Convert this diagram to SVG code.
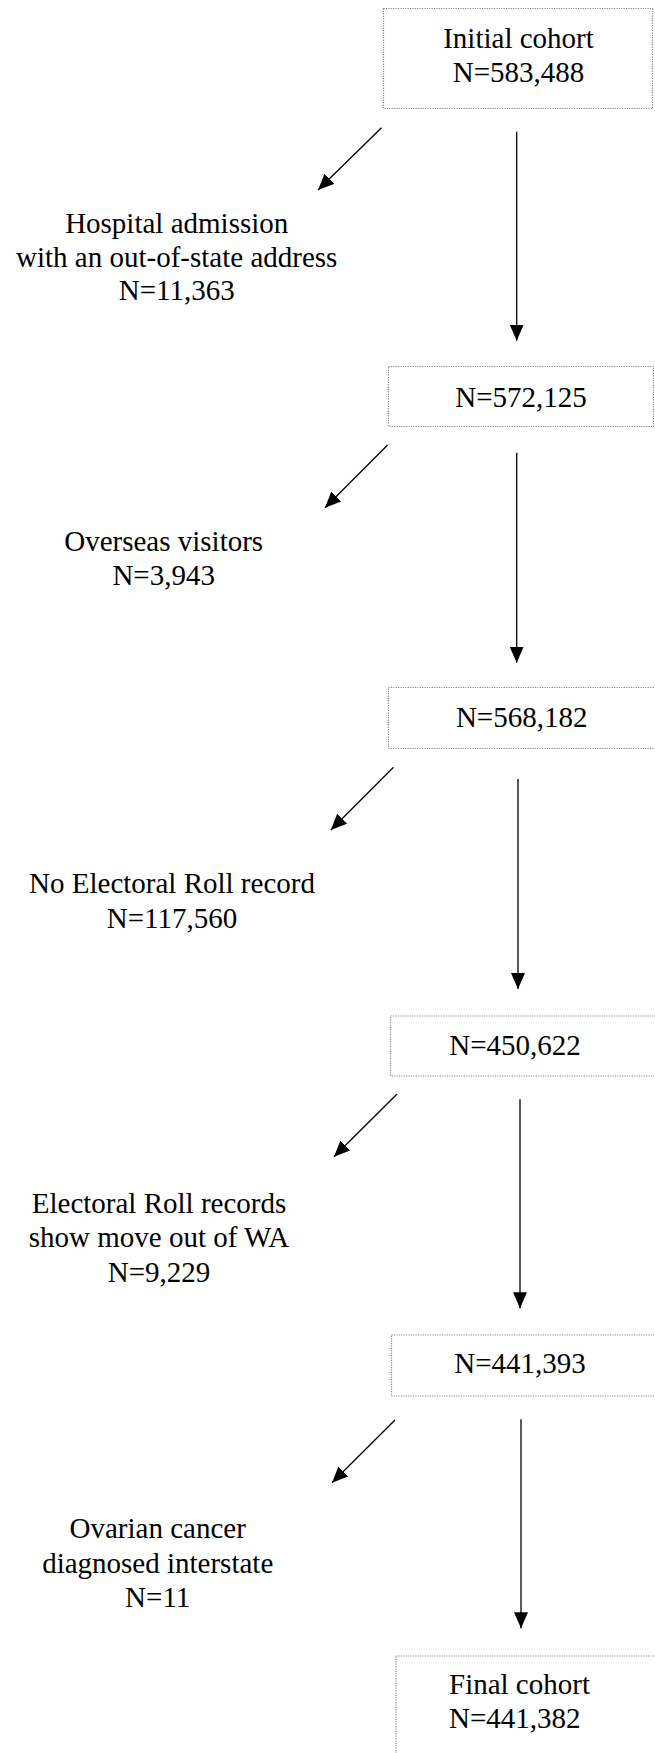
<svg xmlns="http://www.w3.org/2000/svg" width="655" height="1753" viewBox="0 0 655 1753">
<style>
.box{fill:#fff;stroke:#8a8a8a;stroke-width:1.2;stroke-dasharray:1.2 1.2}
.t{font-family:"Liberation Serif","Times New Roman",serif;font-size:29px;fill:#000;text-anchor:middle}
.tl{font-family:"Liberation Serif","Times New Roman",serif;font-size:29px;fill:#000}
.c{stroke:#000;stroke-width:1.3;fill:none;marker-end:url(#ah)}
</style>
<defs>
<marker id="ah" markerUnits="userSpaceOnUse" markerWidth="17" markerHeight="15" refX="16" refY="7" orient="auto">
<path d="M0,0 L16,7 L0,14 z" fill="#000"/>
</marker>
</defs>
<rect width="655" height="1753" fill="#fff"/>
<g id="connectors">
<line class="c" x1="381.5" y1="127.7" x2="318" y2="190"/>
<line class="c" x1="516.7" y1="131.7" x2="516.7" y2="340.7"/>
<line class="c" x1="387.6" y1="445" x2="325" y2="507.7"/>
<line class="c" x1="516.7" y1="452.7" x2="516.7" y2="662.7"/>
<line class="c" x1="393.5" y1="767.3" x2="330.8" y2="830"/>
<line class="c" x1="518" y1="779" x2="518" y2="989"/>
<line class="c" x1="396.8" y1="1094.3" x2="334" y2="1156.7"/>
<line class="c" x1="520" y1="1099.3" x2="520" y2="1308.3"/>
<line class="c" x1="395" y1="1420" x2="332" y2="1482.7"/>
<line class="c" x1="521" y1="1419.3" x2="521" y2="1628.3"/>
</g>
<g id="n1">
<rect class="box" x="383.5" y="8.5" width="269" height="100"/>
<text class="t" x="518.5" y="48">Initial cohort</text>
<text class="t" x="518.5" y="81.7">N=583,488</text>
</g>
<g id="x1">
<text class="t" x="176.7" y="233">Hospital admission</text>
<text class="t" x="176.7" y="266.7">with an out-of-state address</text>
<text class="t" x="176.7" y="300">N=11,363</text>
</g>
<g id="n2">
<rect class="box" x="388.5" y="366.5" width="265" height="60"/>
<text class="t" x="521" y="406.7">N=572,125</text>
</g>
<g id="x2">
<text class="t" x="163.7" y="551">Overseas visitors</text>
<text class="t" x="163.7" y="585">N=3,943</text>
</g>
<g id="n3">
<rect class="box" x="388.5" y="687.5" width="270" height="61"/>
<text class="t" x="521.7" y="726.7">N=568,182</text>
</g>
<g id="x3">
<text class="t" x="172" y="893.3">No Electoral Roll record</text>
<text class="t" x="172" y="928.3">N=117,560</text>
</g>
<g id="n4">
<rect class="box" x="390.5" y="1016" width="270" height="60"/>
<text class="t" x="515" y="1055">N=450,622</text>
</g>
<g id="x4">
<text class="t" x="159" y="1212.7">Electoral Roll records</text>
<text class="t" x="159" y="1246.7">show move out of WA</text>
<text class="t" x="159" y="1281.7">N=9,229</text>
</g>
<g id="n5">
<rect class="box" x="391.5" y="1335" width="270" height="61"/>
<text class="t" x="520" y="1373.3">N=441,393</text>
</g>
<g id="x5">
<text class="t" x="157.7" y="1538.3">Ovarian cancer</text>
<text class="t" x="157.7" y="1573.3">diagnosed interstate</text>
<text class="t" x="157.7" y="1606.7">N=11</text>
</g>
<g id="n6">
<rect class="box" x="396" y="1656" width="270" height="110"/>
<text class="tl" x="449" y="1694">Final cohort</text>
<text class="tl" x="449" y="1728.3">N=441,382</text>
</g>
</svg>
